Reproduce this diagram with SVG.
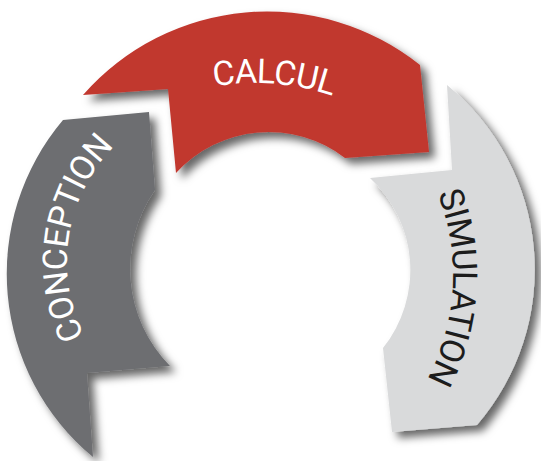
<svg xmlns="http://www.w3.org/2000/svg" xmlns:xlink="http://www.w3.org/1999/xlink" width="541" height="461" viewBox="0 0 541 461">
  <style>
    .lbl { font-family: Roboto, "Liberation Sans", sans-serif; font-size: 34px; font-weight: 400; }
    .light { fill: #ffffff; }
    .dark { fill: #1c1c1c; }
    .seg { filter: url(#shadow); }
  </style>
  <defs>
    <filter id="shadow" x="-20%" y="-20%" width="140%" height="140%">
      <feDropShadow dx="6" dy="6" stdDeviation="4" flood-color="#000000" flood-opacity="0.6"/>
    </filter>
    <path id="arc-conception" d="M90.6,347 A165,165 0 0 1 123.7,137.5"/>
    <path id="arc-calcul" d="M115.6,127.6 A240,240 0 0 1 423.2,151.8"/>
    <path id="arc-simulation" d="M408.8,141.7 A223,223 0 0 1 392.3,427.9"/>
  </defs>
  <rect width="541" height="461" fill="#ffffff"/>
  <g id="connectors"/>
  <g id="node-simulation">
    <path class="seg" fill="#d9dadb" d="M447,85 A238,238 0 0 1 477,425 L392,432 L383,348 A125,125 0 0 0 370,178 L452,170 Z"/>
    <text class="lbl dark" text-anchor="middle"><textPath xlink:href="#arc-simulation" href="#arc-simulation" startOffset="50%" textLength="192" lengthAdjust="spacing">SIMULATION</textPath></text>
  </g>
  <g id="node-conception">
    <path class="seg" fill="#6d6e71" d="M63,120 L149,112 L155,190 A138,138 0 0 0 170,366 L87,373 L93,457 A238,238 0 0 1 63,120 Z"/>
    <text class="lbl light" text-anchor="middle"><textPath xlink:href="#arc-conception" href="#arc-conception" startOffset="50%" textLength="205" lengthAdjust="spacing">CONCEPTION</textPath></text>
  </g>
  <g id="node-calcul">
    <path class="seg" fill="#c1372f" d="M83,95 A245,245 0 0 1 420,65 L429,152 L345,158 A125,125 0 0 0 176,173 L168,89 Z"/>
    <text class="lbl light" text-anchor="middle"><textPath xlink:href="#arc-calcul" href="#arc-calcul" startOffset="50%" textLength="120" lengthAdjust="spacing">CALCUL</textPath></text>
  </g>
</svg>
